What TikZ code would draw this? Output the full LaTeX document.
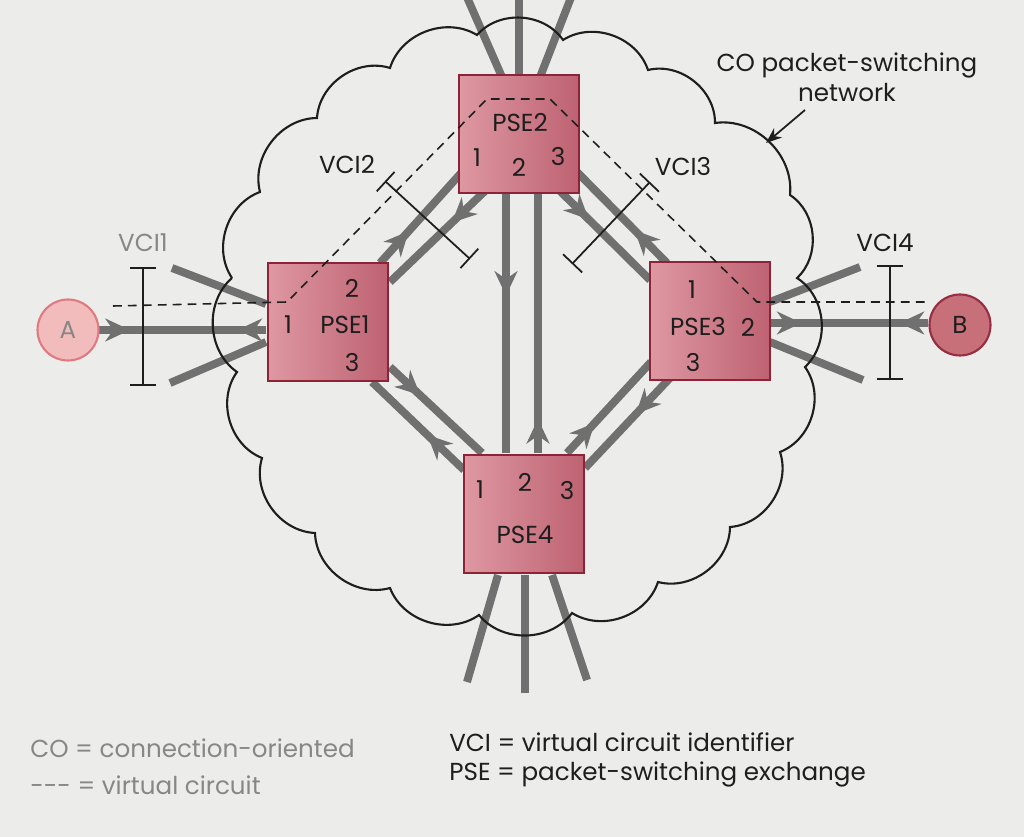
\documentclass[tikz,border=0pt]{standalone}
\usepackage{fontspec}
\setmainfont{Poppins}
\usetikzlibrary{arrows.meta,decorations.markings}

\definecolor{paper}{RGB}{236,236,234}
\definecolor{linkgray}{RGB}{112,112,112}
\definecolor{boxline}{RGB}{140,35,55}
\definecolor{boxlight}{RGB}{222,152,162}
\definecolor{boxdark}{RGB}{190,98,114}
\definecolor{alight}{RGB}{243,188,188}
\definecolor{aline}{RGB}{222,122,128}
\definecolor{bfill}{RGB}{200,112,122}
\definecolor{bline}{RGB}{150,45,65}
\definecolor{ink}{RGB}{30,30,30}
\definecolor{faded}{RGB}{135,135,135}

\tikzset{
  link/.style={draw=linkgray, line width=4.5pt},
  fwd/.style={postaction={decorate,decoration={markings,
      mark=at position #1 with {\arrow[linkgray]{Stealth[length=14pt,width=13pt,inset=4.5pt]}}}}},
  bwd/.style={postaction={decorate,decoration={markings,
      mark=at position #1 with {\arrowreversed[linkgray]{Stealth[length=14pt,width=13pt,inset=4.5pt]}}}}},
  pse/.style={draw=boxline, line width=1.2pt, left color=boxlight, right color=boxdark,
    minimum width=2.4cm, minimum height=2.35cm, inner sep=0pt},
  station/.style={circle, line width=1.2pt, minimum size=1.22cm, inner sep=0pt},
  vc/.style={draw=ink, line width=0.9pt, dash pattern=on 5pt off 3.5pt},
  vci/.style={draw=ink, line width=1pt, {Bar[width=15pt]}-{Bar[width=15pt]}},
  cloudline/.style={draw=ink, line width=1.2pt},
  lbl/.style={text=ink, inner sep=0pt},
}

\begin{document}
\begin{tikzpicture}[x=0.02cm, y=-0.02cm, font=\fontsize{14}{17}\selectfont]
    \useasboundingbox (0,0) rectangle (1024,837);
    \fill[paper] (0,0) rectangle (1024,837);

    % Link end points
    \coordinate (a1) at (98,330);   \coordinate (a2) at (266,330);
    \coordinate (b1) at (770,323);  \coordinate (b2) at (928,323);
    \coordinate (s1a) at (266,304); \coordinate (s1b) at (172,268);
    \coordinate (s1c) at (266,342); \coordinate (s1d) at (170,383);
    \coordinate (s3a) at (770,302); \coordinate (s3b) at (860,267);
    \coordinate (s3c) at (770,342); \coordinate (s3d) at (863,380);
    \coordinate (t2a) at (502,77);  \coordinate (t2b) at (466,-5);
    \coordinate (t2c) at (519,77);  \coordinate (t2d) at (519,-5);
    \coordinate (t2e) at (540,77);  \coordinate (t2f) at (572,-5);
    \coordinate (t4a) at (498,575); \coordinate (t4b) at (467,682);
    \coordinate (t4c) at (525,575); \coordinate (t4d) at (525,693);
    \coordinate (t4e) at (552,575); \coordinate (t4f) at (587,680);
    \coordinate (l12a) at (380,263); \coordinate (l12b) at (462,172);
    \coordinate (l12c) at (485,191); \coordinate (l12d) at (390,282);
    \coordinate (l23a) at (667,263); \coordinate (l23b) at (577,172);
    \coordinate (l23c) at (560,191); \coordinate (l23d) at (650,280);
    \coordinate (l24a) at (506,191); \coordinate (l24b) at (506,453);
    \coordinate (l24c) at (538,453); \coordinate (l24d) at (538,191);
    \coordinate (l14a) at (390,367); \coordinate (l14b) at (482,453);
    \coordinate (l14c) at (464,470); \coordinate (l14d) at (372,382);
    \coordinate (l34a) at (567,453); \coordinate (l34b) at (651,362);
    \coordinate (l34c) at (670,378); \coordinate (l34d) at (585,468);

    % Links
    \draw[link, fwd=0.19, bwd=0.83] (a1) -- (a2);
    \draw[link, fwd=0.2, bwd=0.82] (b1) -- (b2);
    \draw[link] (s1a) -- (s1b);  \draw[link] (s1c) -- (s1d);
    \draw[link] (s3a) -- (s3b);  \draw[link] (s3c) -- (s3d);
    \draw[link] (t2a) -- (t2b);  \draw[link] (t2c) -- (t2d);  \draw[link] (t2e) -- (t2f);
    \draw[link] (t4a) -- (t4b);  \draw[link] (t4c) -- (t4d);  \draw[link] (t4e) -- (t4f);
    \draw[link, fwd=0.35] (l12a) -- (l12b);
    \draw[link, fwd=0.35] (l12c) -- (l12d);
    \draw[link, fwd=0.36] (l23a) -- (l23b);
    \draw[link, fwd=0.32] (l23c) -- (l23d);
    \draw[link, fwd=0.4] (l24a) -- (l24b);
    \draw[link, fwd=0.13] (l24c) -- (l24d);
    \draw[link, fwd=0.33] (l14a) -- (l14b);
    \draw[link, fwd=0.4] (l14c) -- (l14d);
    \draw[link, fwd=0.33] (l34a) -- (l34b);
    \draw[link, fwd=0.4] (l34c) -- (l34d);

    % Cloud
    \draw[cloudline] (232,278) to[bend left=52] (260,192) to[bend left=52] (317,118)
        to[bend left=52] (390,68) to[bend left=52] (477,35) to[bend left=52] (563,40)
        to[bend left=52] (648,70) to[bend left=52] (715,123) to[bend left=52] (790,195)
        to[bend left=52] (797,278) to[bend left=52] (805,367) to[bend left=52] (780,452)
        to[bend left=52] (730,527) to[bend left=52] (658,582) to[bend left=52] (572,613)
        to[bend left=52] (479,615) to[bend left=52] (390,588) to[bend left=52] (315,533)
        to[bend left=52] (262,458) to[bend left=52] (237,372) to[bend left=52] (232,278);

    % Exchanges and stations
    \node[pse] (pse1) at (328,322) {};
    \node[pse] (pse2) at (519,134) {};
    \node[pse] (pse3) at (710,321) {};
    \node[pse] (pse4) at (524,514) {};
    \node[station, fill=alight, draw=aline, text=faded] (A) at (68,330) {A};
    \node[station, fill=bfill, draw=bline, text=ink] (B) at (960,325) {B};

    % Port numbers
    \node[lbl] (n11) at (288,325) {1};
    \node[lbl] (n1) at (345,325) {PSE1};
    \node[lbl] (n12) at (352,288) {2};
    \node[lbl] (n13) at (352,362) {3};
    \node[lbl] (n2) at (520,123) {PSE2};
    \node[lbl] (n21) at (477,158) {1};
    \node[lbl] (n22) at (519,167) {2};
    \node[lbl] (n23) at (558,157) {3};
    \node[lbl] (n31) at (692,290) {1};
    \node[lbl] (n3) at (698,327) {PSE3};
    \node[lbl] (n32) at (748,327) {2};
    \node[lbl] (n33) at (693,362) {3};
    \node[lbl] (n41) at (480,490) {1};
    \node[lbl] (n42) at (525,482) {2};
    \node[lbl] (n43) at (567,490) {3};
    \node[lbl] (n4) at (525,535) {PSE4};

    % Virtual circuit
    \coordinate (vcA) at (113,306);
    \coordinate (vcB) at (927,302);
    \draw[vc] (vcA) -- (287,302) -- (487,99) -- (550,99) -- (757,302) -- (vcB);

    % VCI markers
    \coordinate (v1a) at (143,267); \coordinate (v1b) at (143,386);
    \coordinate (v2a) at (385,181); \coordinate (v2b) at (470,259);
    \coordinate (v3a) at (650,182); \coordinate (v3b) at (572,264);
    \coordinate (v4a) at (890,265); \coordinate (v4b) at (890,380);
    \draw[vci] (v1a) -- (v1b);
    \draw[vci] (v2a) -- (v2b);
    \draw[vci] (v3a) -- (v3b);
    \draw[vci] (v4a) -- (v4b);
    \node[lbl, text=faded] (vci1) at (143,243) {VCI1};
    \node[lbl] (vci2) at (347,165) {VCI2};
    \node[lbl] (vci3) at (683,167) {VCI3};
    \node[lbl] (vci4) at (885,243) {VCI4};

    % Network label
    \node[lbl, align=center] (net) at (847,77) {CO packet-switching\\network};
    \coordinate (netfrom) at (805,110);
    \coordinate (netto) at (766,143);
    \draw[ink, line width=1pt, -{Stealth[length=9pt,width=7pt]}] (netfrom) -- (netto);

    % Key
    \node[lbl, anchor=west, text=faded] (key1) at (30,748) {CO = connection-oriented};
    \node[lbl, anchor=west, text=faded] (key2) at (30,785) {-{}-{}- = virtual circuit};
    \node[lbl, anchor=west] (key3) at (449,742) {VCI = virtual circuit identifier};
    \node[lbl, anchor=west] (key4) at (449,774) {PSE = packet-switching exchange};
\end{tikzpicture}
\end{document}
